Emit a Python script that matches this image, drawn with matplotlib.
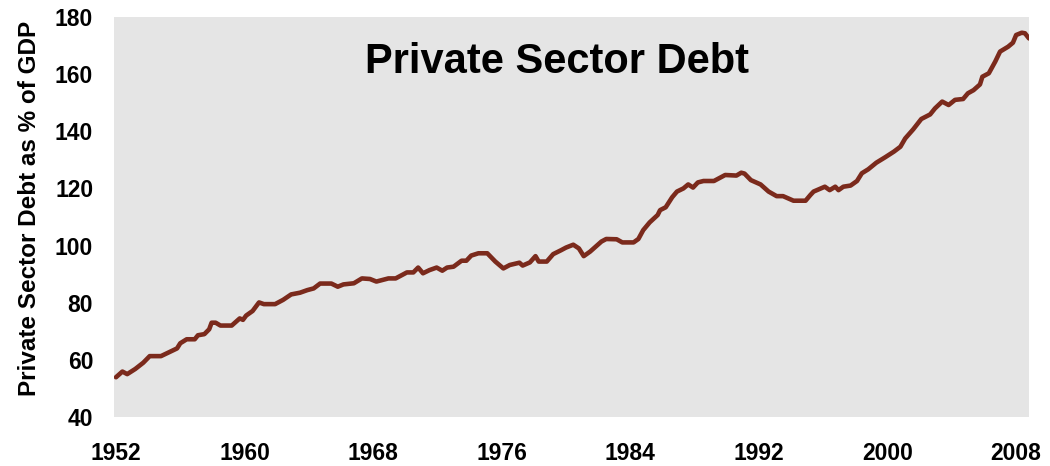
import matplotlib
matplotlib.use("Agg")
import matplotlib.pyplot as plt

plt.rcParams["font.family"] = ["Liberation Sans", "DejaVu Sans"]
plt.rcParams["font.weight"] = "bold"

# Private sector debt as a share of GDP (%), by date (decimal year)
years = [
    1952.0, 1952.4, 1952.7, 1953.2, 1953.7, 1954.1, 1954.8, 1955.4, 1955.8, 1956.0,
    1956.4, 1956.9, 1957.1, 1957.5, 1957.8, 1957.95, 1958.2, 1958.5, 1959.2, 1959.7,
    1959.9, 1960.1, 1960.5, 1960.9, 1961.2, 1961.9, 1962.4, 1962.9, 1963.45, 1963.9,
    1964.3, 1964.7, 1965.4, 1965.8, 1966.15, 1966.8, 1967.3, 1967.8, 1968.2, 1968.95,
    1969.4, 1970.1, 1970.5, 1970.8, 1971.1, 1971.5, 1971.95, 1972.3, 1972.6, 1973.0,
    1973.5, 1973.8, 1974.1, 1974.55, 1975.1, 1975.6, 1976.1, 1976.5, 1977.1, 1977.3,
    1977.75, 1978.1, 1978.3, 1978.8, 1979.2, 1979.7, 1980.0, 1980.45, 1980.8, 1981.1,
    1981.5, 1982.2, 1982.5, 1983.15, 1983.5, 1984.2, 1984.5, 1984.8, 1985.2, 1985.7,
    1985.85, 1986.2, 1986.6, 1986.9, 1987.3, 1987.6, 1987.9, 1988.2, 1988.55, 1989.2,
    1989.9, 1990.6, 1990.9, 1991.1, 1991.5, 1992.1, 1992.6, 1993.1, 1993.5, 1994.15,
    1994.9, 1995.2, 1995.4, 1996.1, 1996.4, 1996.75, 1996.95, 1997.25, 1997.7, 1998.1,
    1998.4, 1998.8, 1999.3, 1999.85, 2000.4, 2000.8, 2001.1, 2001.6, 2002.1, 2002.65,
    2002.95, 2003.4, 2003.8, 2004.2, 2004.7, 2005.0, 2005.35, 2005.75, 2005.9, 2006.3,
    2006.7, 2007.0, 2007.5, 2007.8, 2008.0, 2008.35, 2008.55, 2008.8,
]
debt_pct = [
    53.9, 55.9, 55.0, 56.8, 59.0, 61.3, 61.3, 62.9, 64.0, 65.8,
    67.2, 67.2, 68.6, 69.0, 70.7, 73.0, 73.0, 72.0, 72.0, 74.5,
    74.0, 75.5, 77.1, 80.1, 79.5, 79.5, 81.0, 82.9, 83.5, 84.4,
    85.0, 86.7, 86.7, 85.6, 86.4, 86.8, 88.5, 88.3, 87.4, 88.5,
    88.5, 90.6, 90.6, 92.3, 90.3, 91.4, 92.3, 91.2, 92.3, 92.6,
    94.7, 94.7, 96.5, 97.3, 97.3, 94.4, 92.0, 93.2, 94.0, 93.0,
    94.1, 96.3, 94.4, 94.4, 97.0, 98.4, 99.3, 100.3, 99.0, 96.3,
    97.9, 101.4, 102.3, 102.2, 101.1, 101.1, 102.3, 105.4, 108.1, 110.7,
    112.4, 113.4, 116.9, 118.9, 120.0, 121.4, 120.3, 122.1, 122.6, 122.6,
    124.7, 124.5, 125.5, 125.2, 122.9, 121.4, 118.9, 117.3, 117.3, 115.7,
    115.7, 117.7, 118.9, 120.6, 119.4, 120.6, 119.4, 120.6, 121.0, 122.6,
    125.3, 126.7, 129.0, 130.9, 132.9, 134.6, 137.5, 140.7, 144.3, 145.9,
    148.0, 150.4, 149.2, 151.0, 151.3, 153.3, 154.4, 156.4, 159.1, 160.3,
    164.4, 167.9, 169.6, 171.0, 173.7, 174.5, 174.3, 172.5,
]

year_ticks = [1952, 1960, 1968, 1976, 1984, 1992, 2000, 2008]
value_ticks = [40, 60, 80, 100, 120, 140, 160, 180]

fig = plt.figure(figsize=(10.5, 4.66), dpi=100)
ax = fig.add_axes([0.1086, 0.1052, 0.8714, 0.8583])
ax.set_facecolor("#E5E5E5")

ax.plot(years, debt_pct, color="#7B2A1C", linewidth=3.3,
        solid_joinstyle="round", solid_capstyle="round")

ax.set_xlim(1951.88, 2008.8)
ax.set_ylim(40, 180)
ax.set_xticks(year_ticks)
ax.set_xticklabels([str(y) for y in year_ticks])
ax.set_yticks(value_ticks)
ax.set_yticklabels([str(v) for v in value_ticks])

for s in ax.spines.values():
    s.set_visible(False)
ax.tick_params(axis="both", length=0, labelsize=16.5)
ax.tick_params(axis="x", pad=18)
ax.tick_params(axis="y", pad=15)
for lbl in ax.get_xticklabels() + ax.get_yticklabels():
    lbl.set_fontweight("bold")

ax.set_ylabel("Private Sector Debt as % of GDP", fontsize=17.5, fontweight="bold")
ax.yaxis.set_label_coords(-0.080, 0.522)

ax.text(0.484, 0.86, "Private Sector Debt", transform=ax.transAxes,
        ha="center", va="baseline", fontsize=30, fontweight="bold", color="black")

fig.savefig("out.png", dpi=100, facecolor="white")
